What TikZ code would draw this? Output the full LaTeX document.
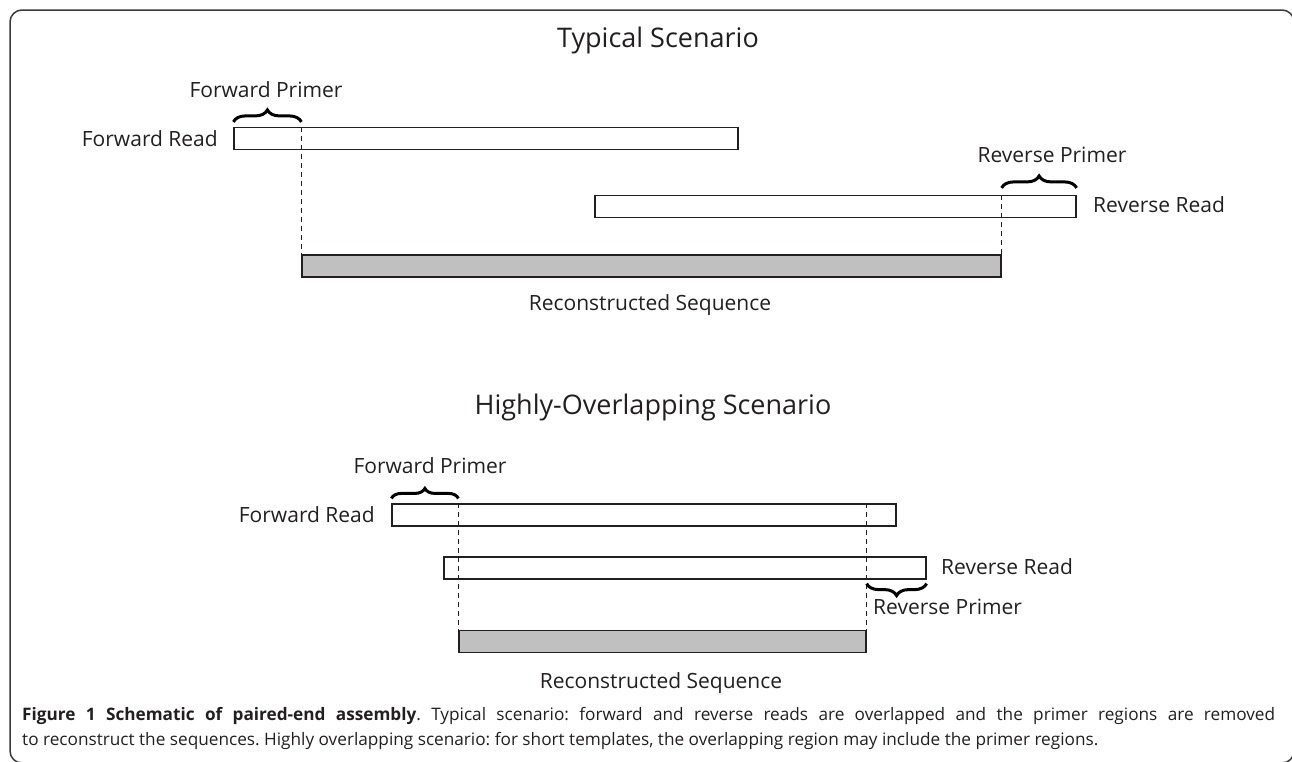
\documentclass[tikz,border=0pt]{standalone}
\usepackage{fontspec}
\setmainfont{Open Sans}
\usetikzlibrary{decorations.pathreplacing}
\definecolor{seqgray}{HTML}{C0C0C0}
\definecolor{inkgray}{HTML}{231F20}
\definecolor{framegray}{HTML}{3A3A3A}
\tikzset{
  readbox/.style={draw=inkgray, line width=1.2pt, fill=white, inner sep=0pt, minimum height=22pt},
  seqbox/.style={readbox, fill=seqgray},
  lbl/.style={inner sep=0pt, font=\fontsize{21}{25}\selectfont, text=inkgray},
  ttl/.style={inner sep=0pt, font=\fontsize{27}{32}\selectfont, text=inkgray},
  figcap/.style={inner sep=0pt, font=\fontsize{17.2}{21}\selectfont\frenchspacing, text=inkgray},
  cut/.style={draw=inkgray, line width=1.1pt, dash pattern=on 5pt off 4pt},
  primer/.style={draw=black, line width=3pt, decorate, decoration={brace, amplitude=12pt}},
}
\begin{document}
\begin{tikzpicture}[x=1pt, y=-1pt]
        \useasboundingbox (0,0) rectangle (1292,761);
        \draw[framegray, line width=1.5pt, rounded corners=12pt] (10,10) rectangle (1294,763);

        % typical scenario
        \node[ttl, anchor=base] (ttlA) at (658,47) {Typical Scenario};
        \node[readbox, minimum width=504pt] (fwdA) at (486,138.5) {};
        \node[readbox, minimum width=481pt] (revA) at (835.5,206.5) {};
        \node[seqbox, minimum width=699pt] (recA) at (651.5,266) {};
        \draw[cut] (fwdA.north -| recA.west) -- (recA.north west);
        \draw[cut] (revA.north -| recA.east) -- (recA.north east);
        \draw[primer] ([yshift=5pt]fwdA.north west) -- ([yshift=5pt]fwdA.north -| recA.west);
        \draw[primer] ([yshift=7pt]revA.north -| recA.east) -- ([yshift=7pt]revA.north east);

        \node[lbl, anchor=base] (fpA) at (266,97) {Forward Primer};
        \node[lbl, anchor=base east] (frA) at (218,146) {Forward Read};
        \node[lbl, anchor=base] (rpA) at (1052,162) {Reverse Primer};
        \node[lbl, anchor=base west] (rrA) at (1093,212) {Reverse Read};
        \node[lbl, anchor=base] (rsA) at (650,310) {Reconstructed Sequence};

        % highly-overlapping scenario
        \node[ttl, anchor=base] (ttlB) at (653,414) {Highly-Overlapping Scenario};
        \node[readbox, minimum width=504pt] (fwdB) at (644,515) {};
        \node[readbox, minimum width=482pt] (revB) at (685,568) {};
        \node[seqbox, minimum width=407pt] (recB) at (662.5,641.5) {};
        \draw[cut] (fwdB.north -| recB.west) -- (recB.north west);
        \draw[cut] (fwdB.north -| recB.east) -- (recB.north east);
        \draw[primer, decoration={amplitude=10pt}] ([yshift=5pt]fwdB.north west) -- ([yshift=5pt]fwdB.north -| recB.west);
        \draw[primer] ([yshift=-4pt]revB.south east) -- ([yshift=-4pt]revB.south -| recB.east);

        \node[lbl, anchor=base] (fpB) at (430,473) {Forward Primer};
        \node[lbl, anchor=base east] (frB) at (375,522) {Forward Read};
        \node[lbl, anchor=base west] (rrB) at (941,574) {Reverse Read};
        \node[lbl, anchor=base west] (rpB) at (873,614) {Reverse Primer};
        \node[lbl, anchor=base] (rsB) at (661,688) {Reconstructed Sequence};

        % caption
        \node[figcap, anchor=base west] (capA) at (22,720) {\makebox[1253pt][s]{\textbf{Figure 1 Schematic of paired-end assembly}. Typical scenario: forward and reverse reads are overlapped and the primer regions are removed}};
        \node[figcap, anchor=base west] (capB) at (22,745) {to reconstruct the sequences. Highly overlapping scenario: for short templates, the overlapping region may include the primer regions.};

    \end{tikzpicture}
\end{document}
